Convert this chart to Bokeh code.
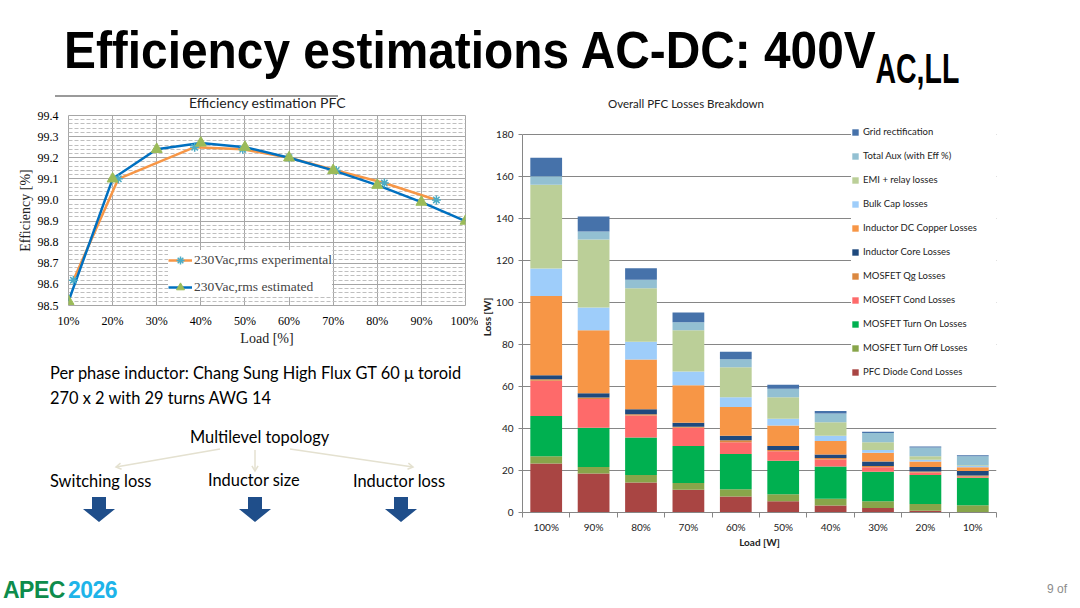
import math

from bokeh.plotting import figure
from bokeh.models import (Range1d, FixedTicker, Legend, LegendItem, Div,
                          PrintfTickFormatter, ColumnDataSource)
from bokeh.layouts import column, row
from bokeh.embed import file_html
from bokeh.resources import INLINE

# ---- left chart: efficiency estimation ----
load_pct = [10, 20, 30, 40, 50, 60, 70, 80, 90, 100]
load_pct_labels = ["10%", "20%", "30%", "40%", "50%", "60%", "70%", "80%", "90%", "100%"]
eff_estimated = [98.52, 99.10, 99.24, 99.27, 99.25, 99.20, 99.14, 99.07, 98.99, 98.90]
exp_load = [11.1, 21.3, 38.6, 49.5, 60.0, 70.7, 81.6, 93.4]
eff_experimental = [98.62, 99.10, 99.25, 99.24, 99.20, 99.14, 99.08, 99.00]
eff_ticks = [98.5, 98.6, 98.7, 98.8, 98.9, 99.0, 99.1, 99.2, 99.3, 99.4]

# ---- right chart: losses breakdown (W) ----
load_cats = ["100%", "90%", "80%", "70%", "60%", "50%", "40%", "30%", "20%", "10%"]
pfc_diode = [23.3, 18.6, 14.3, 10.8, 7.6, 5.4, 3.3, 2.1, 0.8, 0.2]
turn_off = [3.5, 3.1, 3.5, 3.2, 3.5, 3.3, 3.2, 3.3, 3.3, 3.3]
turn_on = [19.1, 18.6, 17.9, 17.7, 16.7, 15.9, 15.4, 14.0, 13.7, 13.0]
mosfet_cond = [16.8, 13.8, 10.5, 8.6, 5.7, 4.6, 3.3, 2.2, 1.2, 0.5]
mosfet_qg = [0.7, 0.7, 0.6, 0.5, 0.9, 0.6, 0.7, 0.5, 0.5, 0.6]
core = [2.0, 2.0, 2.4, 1.9, 2.1, 1.9, 1.7, 2.2, 2.2, 2.2]
copper = [37.7, 30.0, 23.7, 17.9, 13.7, 9.7, 6.5, 4.1, 2.6, 1.8]
bulk = [13.1, 10.8, 8.4, 6.5, 4.7, 3.2, 2.4, 1.4, 0.8, 0.5]
emi = [39.9, 32.4, 25.5, 19.7, 14.3, 10.3, 6.5, 3.7, 1.7, 0.4]
aux = [4.0, 3.8, 4.0, 3.8, 3.8, 4.0, 4.1, 4.3, 4.1, 4.3]
grid_rect = [8.8, 7.2, 5.5, 4.6, 3.5, 1.9, 1.2, 0.6, 0.5, 0.5]
loss_ticks = [0, 20, 40, 60, 80, 100, 120, 140, 160, 180]

series = [
    ("pfc_diode", pfc_diode, "PFC Diode Cond Losses", "#A94543"),
    ("turn_off", turn_off, "MOSFET Turn Off Losses", "#88A54A"),
    ("turn_on", turn_on, "MOSFET Turn On Losses", "#00B050"),
    ("mosfet_cond", mosfet_cond, "MOSEFT Cond Losses", "#FE6A6A"),
    ("mosfet_qg", mosfet_qg, "MOSFET Qg Losses", "#DB8840"),
    ("core", core, "Inductor Core Losses", "#1F497D"),
    ("copper", copper, "Inductor DC Copper Losses", "#F79646"),
    ("bulk", bulk, "Bulk Cap losses", "#9ECDFA"),
    ("emi", emi, "EMI + relay losses", "#BBCF98"),
    ("aux", aux, "Total Aux (with Eff %)", "#93C0D2"),
    ("grid_rect", grid_rect, "Grid rectification", "#4672AA"),
]

SERIF = "Liberation Serif"
SANS = "Lato"

# ================= left: efficiency chart =================
left = figure(frame_width=397, frame_height=190, x_range=Range1d(10, 100),
              y_range=Range1d(98.5, 99.4), output_backend="svg", toolbar_location=None,
              title=None, min_border_left=68, min_border_right=13, min_border_top=6,
              min_border_bottom=44)

left.xaxis.ticker = FixedTicker(ticks=load_pct)
left.xaxis.major_label_overrides = dict(zip(load_pct, load_pct_labels))
minor = [round(98.5 + 0.02 * i, 2) for i in range(46)]
left.yaxis.ticker = FixedTicker(ticks=eff_ticks, minor_ticks=minor)
left.yaxis.formatter = PrintfTickFormatter(format="%.1f")
for ax in (left.xaxis, left.yaxis):
    ax.axis_line_color = None
    ax.major_tick_line_color = None
    ax.minor_tick_line_color = None
    ax.major_tick_out = 0
    ax.minor_tick_out = 0
    ax.major_label_text_font = SERIF
    ax.major_label_text_font_size = "12px"
    ax.major_label_text_color = "black"
    ax.axis_label_text_font = SERIF
    ax.axis_label_text_font_size = "14px"
    ax.axis_label_text_font_style = "normal"
    ax.axis_label_text_color = "#222222"
left.xaxis.axis_label = "Load [%]"
left.yaxis.axis_label = "Efficiency [%]"
left.xaxis.major_label_standoff = 8
left.xaxis.axis_label_standoff = 0
left.yaxis.major_label_standoff = 10
left.yaxis.axis_label_standoff = 2

left.xgrid.grid_line_color = "#A6A6A6"
left.ygrid.grid_line_color = "#A6A6A6"
left.ygrid.minor_grid_line_color = "#BFBFBF"
left.ygrid.minor_grid_line_dash = "4 2"
left.outline_line_color = "#A6A6A6"

l_exp = left.line(exp_load, eff_experimental, line_color="#F79646", line_width=2.5)
l_est = left.line(load_pct, eff_estimated, line_color="#0070C0", line_width=2.5)
m_exp = left.scatter(exp_load, eff_experimental, marker="asterisk", size=9,
                     line_color="#4BACC6", line_width=1.5)
m_est = left.scatter(load_pct, eff_estimated, marker="triangle", size=11,
                     fill_color="#9BBB59", line_color="#9BBB59")

left_legend = Legend(items=[LegendItem(label="230Vac,rms experimental", renderers=[l_exp, m_exp]),
                            LegendItem(label="230Vac,rms estimated", renderers=[l_est, m_est])],
                     location=(100, 8), padding=4, spacing=7, label_height=20,
                     glyph_width=24, glyph_height=20, label_standoff=2,
                     label_text_font=SERIF, label_text_font_size="13.5px",
                     border_line_color=None, background_fill_alpha=1.0, margin=0)
left.add_layout(left_legend)

# ================= left bottom: text diagram (page coordinates) =================
diag_text = ["Per phase inductor: Chang Sung High Flux GT 60 \u03bc toroid",
             "270 x 2 with 29 turns AWG 14", "Multilevel topology",
             "Switching loss", "Inductor size", "Inductor loss"]
diag_x = [50, 50, 190, 50, 208, 353]
diag_y = [378.5, 403.5, 442.5, 486.5, 486, 486.5]
branch_start = [(220, 449), (255, 450), (290, 449)]
branch_end = [(116, 467), (255, 471), (413, 467)]
arrow_cx = [99, 255, 401]
shape_dx = [-7, 7, 7, 16, 0, -16, -7]
shape_y = [497, 497, 509, 509, 522, 509, 509]

svg = ['<svg xmlns="http://www.w3.org/2000/svg" width="478" height="191" '
       'viewBox="0 349 478 191" style="display:block">']
for (xs, ys), (xe, ye) in zip(branch_start, branch_end):
    ang = math.atan2(ye - ys, xe - xs)
    pts = []
    for da in (2.6, -2.6):
        pts.append((xe + 6 * math.cos(ang + da), ye + 6 * math.sin(ang + da)))
    svg.append(f'<line x1="{xs}" y1="{ys}" x2="{xe}" y2="{ye}" stroke="#E4E1D0" stroke-width="1.5"/>')
    svg.append(f'<polyline points="{pts[0][0]:.1f},{pts[0][1]:.1f} {xe},{ye} '
               f'{pts[1][0]:.1f},{pts[1][1]:.1f}" fill="none" stroke="#E4E1D0" stroke-width="1.5"/>')
for cx in arrow_cx:
    pts = " ".join(f"{cx + dx},{y}" for dx, y in zip(shape_dx, shape_y))
    svg.append(f'<polygon points="{pts}" fill="#1F4E8A"/>')
for t, x, y in zip(diag_text, diag_x, diag_y):
    svg.append(f'<text x="{x}" y="{y}" style="font-family:Lato;font-size:16.4px;fill:#000">{t}</text>')
svg.append('</svg>')
diag = Div(width=478, height=191, margin=(0, 0, 0, 0), text="".join(svg))

# ================= right: stacked losses chart =================
bar_x = [i + 0.5 for i in range(len(load_cats))]
bounds = [float(i) for i in range(len(load_cats) + 1)]
data = {"x": bar_x}
for key, vals, _, _ in series:
    data[key] = vals
src = ColumnDataSource(data)

right = figure(frame_width=474, frame_height=391, x_range=Range1d(0, len(load_cats)),
               y_range=Range1d(0, 186.2), output_backend="svg", toolbar_location=None,
               title=None, min_border_left=44, min_border_right=64, min_border_top=12,
               min_border_bottom=43)

rs = right.vbar_stack([s[0] for s in series], x="x", width=0.67, source=src,
                      fill_color=[s[3] for s in series], line_color=None)

right.xaxis.ticker = FixedTicker(ticks=bar_x, minor_ticks=bounds)
right.xaxis.major_label_overrides = dict(zip(bar_x, load_cats))
right.yaxis.ticker = FixedTicker(ticks=loss_ticks)
right.yaxis.bounds = (0, 180)
for ax in (right.xaxis, right.yaxis):
    ax.axis_line_color = "#868686"
    ax.major_label_text_font = SANS
    ax.major_label_text_font_size = "10px"
    ax.major_label_text_color = "#222222"
    ax.axis_label_text_font = SANS
    ax.axis_label_text_font_size = "10px"
    ax.axis_label_text_font_style = "bold"
    ax.axis_label_text_color = "#222222"
right.xaxis.major_tick_line_color = None
right.xaxis.major_tick_out = 0
right.xaxis.minor_tick_line_color = "#868686"
right.xaxis.minor_tick_out = 5
right.xaxis.minor_tick_in = 0
right.xaxis.major_label_standoff = 3
right.xaxis.axis_label_standoff = 0
right.yaxis.major_tick_line_color = "#868686"
right.yaxis.major_tick_out = 4
right.yaxis.major_tick_in = 0
right.yaxis.minor_tick_line_color = None
right.yaxis.major_label_standoff = 5
right.yaxis.axis_label_standoff = 0
right.xaxis.axis_label = "Load [W]"
right.yaxis.axis_label = "Loss [W]"
right.xgrid.grid_line_color = None
right.ygrid.grid_line_color = "#868686"
right.outline_line_color = None

items = [LegendItem(label=s[2], renderers=[r]) for s, r in zip(series, rs)][::-1]
right_legend = Legend(items=items, location=(329, 133), padding=6, spacing=9, label_height=15,
                      label_width=135, glyph_width=8, glyph_height=8, label_standoff=4,
                      label_text_font=SANS, label_text_font_size="9.5px",
                      label_text_color="#222222", border_line_color=None,
                      background_fill_alpha=1.0, margin=0)
right.add_layout(right_legend)

# ================= slide title, chart titles and footer =================
title_div = Div(width=1080, height=109, margin=(0, 0, 0, 0), text=(
    '<div style="position:relative;width:1080px;height:109px">'
    '<div style="position:absolute;left:64px;top:24px;white-space:nowrap;line-height:1;'
    'font-family:\'Liberation Sans\';font-weight:bold;font-size:52px;color:#000;'
    'transform:scaleX(0.92);transform-origin:left top">'
    'Efficiency estimations AC-DC: 400V'
    '<span style="display:inline-block;font-size:43px;position:relative;top:15px;'
    'transform:scaleX(0.72);transform-origin:left top">AC,LL</span></div>'
    '<div style="position:absolute;left:55px;top:95px;width:283px;height:14px;'
    'border-top:2px solid #9A9A9A;box-sizing:border-box;padding:0 0 0 134px;'
    'white-space:nowrap;line-height:11px;font-family:Lato;font-size:14px;color:#222">'
    'Efficiency estimation PFC</div>'
    '<div style="position:absolute;left:536px;top:98px;width:300px;text-align:center;'
    'white-space:nowrap;line-height:1;font-family:Lato;font-size:11.5px;color:#222">'
    'Overall PFC Losses Breakdown</div></div>'))

footer_div = Div(width=1080, height=53, margin=(0, 0, 0, 0), text=(
    '<div style="position:relative;width:1080px;height:53px">'
    '<div style="position:absolute;left:3px;top:24px;white-space:nowrap;line-height:1;'
    'font-family:\'Liberation Sans\';font-weight:bold;font-size:23px;letter-spacing:-0.5px">'
    '<span style="color:#0E8C4C">APEC</span>'
    '<span style="color:#1EB4E9;margin-left:3px">2026</span></div>'
    '<div style="position:absolute;left:1047px;top:28px;white-space:nowrap;line-height:1;'
    'font-family:\'Liberation Sans\';font-size:12px;color:#8C8C8C">9 of</div></div>'))

left_col = column(left, diag, spacing=0)
page = column(title_div, row(left_col, right, spacing=0), footer_div, spacing=0)

open("out.html", "w").write(file_html(page, INLINE))
